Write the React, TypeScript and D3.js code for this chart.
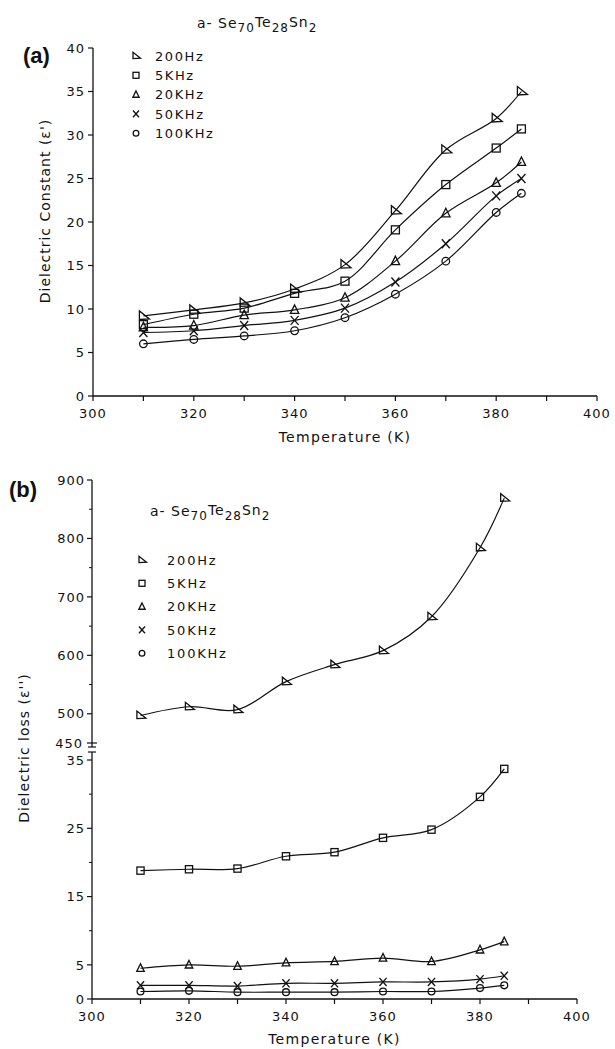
import React from "react";
import * as d3 from "d3";

// ---------- data ----------
const temps = [310, 320, 330, 340, 350, 360, 370, 380, 385];
const seriesNames = ["200Hz", "5KHz", "20KHz", "50KHz", "100KHz"];

// (a) dielectric constant
const epsA_200Hz = [9.2, 9.9, 10.7, 12.3, 15.1, 21.3, 28.3, 31.9, 35.0];
const epsA_5KHz = [8.2, 9.4, 10.1, 11.8, 13.2, 19.1, 24.3, 28.5, 30.7];
const epsA_20KHz = [7.9, 8.1, 9.3, 9.9, 11.3, 15.5, 21.0, 24.5, 26.9];
const epsA_50KHz = [7.3, 7.5, 8.1, 8.7, 10.1, 13.1, 17.5, 23.0, 25.0];
const epsA_100KHz = [6.0, 6.5, 6.9, 7.5, 9.0, 11.7, 15.5, 21.1, 23.3];

// (b) dielectric loss
const lossB_200Hz = [497, 512, 507, 555, 584, 608, 666, 784, 869];
const lossB_5KHz = [18.8, 19.0, 19.1, 20.9, 21.5, 23.6, 24.8, 29.6, 33.7];
const lossB_20KHz = [4.5, 5.0, 4.8, 5.3, 5.5, 6.0, 5.5, 7.2, 8.4];
const lossB_50KHz = [2.0, 2.0, 1.9, 2.3, 2.3, 2.5, 2.5, 2.9, 3.4];
const lossB_100KHz = [1.1, 1.2, 1.0, 1.0, 1.0, 1.1, 1.1, 1.6, 2.0];

const xTicks = [300, 310, 320, 330, 340, 350, 360, 370, 380, 390, 400];
const xTickLabels = [300, 320, 340, 360, 380, 400];
const yTicksA = [0, 5, 10, 15, 20, 25, 30, 35, 40];
const yTicksBTopMajor = [900, 800, 700, 600, 500];
const yTicksBTopMinor = [850, 750, 650, 550];
const yTicksBBotMajor = [35, 25, 15, 5, 0];
const yTicksBBotMinor = [30, 20, 10];

type Sym = "triR" | "square" | "triUp" | "cross" | "circle";
const symbols: Sym[] = ["triR", "square", "triUp", "cross", "circle"];

const FONT = "'DejaVu Sans', Verdana, sans-serif";
const INK = "#111";

function Marker({ x, y, s, k = 1 }: { x: number; y: number; s: Sym; k?: number }) {
  const common = { fill: "none", stroke: INK, strokeWidth: 1.3 };
  if (s === "triR") {
    return (
      <path
        d={`M${x - 4 * k},${y - 5 * k} L${x - 4 * k},${y + 3.5 * k} L${x + 6 * k},${y + 3 * k} Z`}
        {...common}
      />
    );
  }
  if (s === "square") {
    return <rect x={x - 4 * k} y={y - 4 * k} width={8 * k} height={8 * k} {...common} />;
  }
  if (s === "triUp") {
    return (
      <path d={`M${x},${y - 5 * k} L${x - 4.2 * k},${y + 3.5 * k} L${x + 4.2 * k},${y + 3.5 * k} Z`} {...common} />
    );
  }
  if (s === "cross") {
    return (
      <path
        d={`M${x - 4 * k},${y - 4.5 * k} L${x + 4 * k},${y + 4.5 * k} M${x + 4 * k},${y - 4.5 * k} L${x - 4 * k},${y + 4.5 * k}`}
        {...common}
      />
    );
  }
  return <circle cx={x} cy={y} r={3.8 * k} {...common} />;
}

function Title({ x, y }: { x: number; y: number }) {
  return (
    <text x={x} y={y} fontFamily={FONT} fontSize={14} fill={INK} letterSpacing={1}>
      <tspan>a- Se</tspan>
      <tspan dy={4} fontSize={12}>70</tspan>
      <tspan dy={-5}>Te</tspan>
      <tspan dy={5} fontSize={12}>28</tspan>
      <tspan dy={-5}>Sn</tspan>
      <tspan dy={5} fontSize={12}>2</tspan>
    </text>
  );
}

export default function App() {
  // ---- panel (a) scales ----
  const xA = d3.scaleLinear().domain([300, 400]).range([93, 597]);
  const yA = d3.scaleLinear().domain([0, 40]).range([396, 48]);

  // ---- panel (b) scales ----
  const xB = d3.scaleLinear().domain([300, 400]).range([92, 577]);
  const yBTop = d3.scaleLinear().domain([450, 900]).range([743, 480]);
  const yBBot = d3.scaleLinear().domain([0, 35]).range([999, 760]);

  const seriesA = [epsA_200Hz, epsA_5KHz, epsA_20KHz, epsA_50KHz, epsA_100KHz];
  const seriesB = [lossB_200Hz, lossB_5KHz, lossB_20KHz, lossB_50KHz, lossB_100KHz];

  const lineGen = (xs: d3.ScaleLinear<number, number>, ys: d3.ScaleLinear<number, number>) =>
    d3
      .line<number>()
      .x((_, i) => xs(temps[i]))
      .y((v) => ys(v))
      .curve(d3.curveCatmullRom.alpha(0.5));

  const lineA = lineGen(xA, yA);

  const axisText = { fontFamily: FONT, fontSize: 13, fill: INK, letterSpacing: 1 } as const;
  const titleText = { fontFamily: FONT, fontSize: 14, fill: INK, letterSpacing: 1.3 } as const;

  return (
    <svg
      width={615}
      height={1049}
      style={{ position: "absolute", left: 0, top: 0, background: "#fff" }}
      xmlns="http://www.w3.org/2000/svg"
    >
      <rect x={0} y={0} width={615} height={1049} fill="#fff" />

      {/* ================= PANEL (a) ================= */}
      <text x={23} y={63} fontFamily="'Liberation Sans', Arial, sans-serif" fontWeight="bold" fontSize={22} fill={INK}>
        (a)
      </text>
      <Title x={197} y={28} />

      {/* axes */}
      <line x1={xA(300)} x2={xA(300)} y1={yA(40)} y2={yA(0)} stroke={INK} strokeWidth={1.3} />
      <line x1={xA(300)} x2={xA(400)} y1={yA(0)} y2={yA(0)} stroke={INK} strokeWidth={1.3} />
      {yTicksA.map((t) => (
        <g key={"ya" + t}>
          <line x1={xA(300) - 5} x2={xA(300)} y1={yA(t)} y2={yA(t)} stroke={INK} strokeWidth={1.2} />
          <text x={xA(300) - 8} y={yA(t)} dy="0.36em" textAnchor="end" {...axisText}>
            {t}
          </text>
        </g>
      ))}
      {xTicks.map((t) => (
        <line key={"xa" + t} x1={xA(t)} x2={xA(t)} y1={yA(0)} y2={yA(0) + 5} stroke={INK} strokeWidth={1.2} />
      ))}
      {xTickLabels.map((t) => (
        <text key={"xal" + t} x={xA(t)} y={418} textAnchor="middle" {...axisText}>
          {t}
        </text>
      ))}
      <text x={(xA(300) + xA(400)) / 2} y={442} textAnchor="middle" {...titleText}>
        Temperature (K)
      </text>
      <text transform={`translate(50,211) rotate(-90)`} textAnchor="middle" {...titleText} letterSpacing={1}>
        Dielectric Constant (ε')
      </text>

      {/* legend (a) */}
      {seriesNames.map((n, i) => (
        <g key={"lga" + n}>
          <Marker x={136} y={56 + i * 19.3} s={symbols[i]} k={0.75} />
          <text x={155} y={56 + i * 19.3} dy="0.36em" fontFamily={FONT} fontSize={13} fill={INK} letterSpacing={1.6}>
            {n}
          </text>
        </g>
      ))}

      {/* series (a) */}
      {seriesA.map((vals, si) => (
        <g key={"sa" + si}>
          <path d={lineA(vals) || ""} fill="none" stroke={INK} strokeWidth={1.2} />
          {vals.map((v, i) => (
            <Marker key={i} x={xA(temps[i])} y={yA(v)} s={symbols[si]} />
          ))}
        </g>
      ))}

      {/* ================= PANEL (b) ================= */}
      <text x={9} y={497} fontFamily="'Liberation Sans', Arial, sans-serif" fontWeight="bold" fontSize={22} fill={INK}>
        (b)
      </text>
      <Title x={150} y={516} />

      {/* upper axis segment */}
      <line x1={xB(300)} x2={xB(300)} y1={yBTop(900)} y2={747} stroke={INK} strokeWidth={1.3} />
      <line x1={xB(300) - 5} x2={xB(300) + 5} y1={yBTop(450)} y2={yBTop(450)} stroke={INK} strokeWidth={1.2} />
      <line x1={xB(300) - 4} x2={xB(300) + 4} y1={747} y2={747} stroke={INK} strokeWidth={1.2} />
      {yTicksBTopMajor.map((t) => (
        <g key={"ybt" + t}>
          <line x1={xB(300) - 5} x2={xB(300)} y1={yBTop(t)} y2={yBTop(t)} stroke={INK} strokeWidth={1.2} />
          <text x={xB(300) - 7} y={yBTop(t)} dy="0.36em" textAnchor="end" {...axisText}>
            {t}
          </text>
        </g>
      ))}
      {yTicksBTopMinor.map((t) => (
        <line key={"ybtm" + t} x1={xB(300) - 3} x2={xB(300)} y1={yBTop(t)} y2={yBTop(t)} stroke={INK} strokeWidth={1} />
      ))}
      <text x={xB(300) - 9} y={yBTop(450)} dy="0.36em" textAnchor="end" {...axisText}>
        450
      </text>

      {/* lower axis segment */}
      <line x1={xB(300)} x2={xB(300)} y1={752} y2={yBBot(0)} stroke={INK} strokeWidth={1.3} />
      <line x1={xB(300) - 4} x2={xB(300) + 4} y1={752} y2={752} stroke={INK} strokeWidth={1.2} />
      {yTicksBBotMajor.map((t) => (
        <g key={"ybb" + t}>
          <line x1={xB(300) - 5} x2={xB(300)} y1={yBBot(t)} y2={yBBot(t)} stroke={INK} strokeWidth={1.2} />
          <text x={xB(300) - 7} y={yBBot(t)} dy="0.36em" textAnchor="end" {...axisText}>
            {t}
          </text>
        </g>
      ))}
      {yTicksBBotMinor.map((t) => (
        <line key={"ybbm" + t} x1={xB(300) - 3} x2={xB(300)} y1={yBBot(t)} y2={yBBot(t)} stroke={INK} strokeWidth={1} />
      ))}

      {/* x axis (b) */}
      <line x1={xB(300)} x2={xB(400)} y1={yBBot(0)} y2={yBBot(0)} stroke={INK} strokeWidth={1.3} />
      {xTicks.map((t) => (
        <line key={"xb" + t} x1={xB(t)} x2={xB(t)} y1={yBBot(0)} y2={yBBot(0) + 5} stroke={INK} strokeWidth={1.2} />
      ))}
      {xTickLabels.map((t) => (
        <text key={"xbl" + t} x={xB(t)} y={1021} textAnchor="middle" {...axisText}>
          {t}
        </text>
      ))}
      <text x={(xB(300) + xB(400)) / 2} y={1044} textAnchor="middle" {...titleText}>
        Temperature (K)
      </text>
      <text transform={`translate(29,748) rotate(-90)`} textAnchor="middle" {...titleText} letterSpacing={1}>
        Dielectric loss (ε'')
      </text>

      {/* legend (b) */}
      {seriesNames.map((n, i) => (
        <g key={"lgb" + n}>
          <Marker x={142} y={560 + i * 23.3} s={symbols[i]} k={0.75} />
          <text x={167} y={560 + i * 23.3} dy="0.36em" fontFamily={FONT} fontSize={13} fill={INK} letterSpacing={1.8}>
            {n}
          </text>
        </g>
      ))}

      {/* series (b) */}
      {seriesB.map((vals, si) => {
        const ys = si === 0 ? yBTop : yBBot;
        const lg = lineGen(xB, ys);
        return (
          <g key={"sb" + si}>
            <path d={lg(vals) || ""} fill="none" stroke={INK} strokeWidth={1.2} />
            {vals.map((v, i) => (
              <Marker key={i} x={xB(temps[i])} y={ys(v)} s={symbols[si]} k={0.9} />
            ))}
          </g>
        );
      })}
    </svg>
  );
}
